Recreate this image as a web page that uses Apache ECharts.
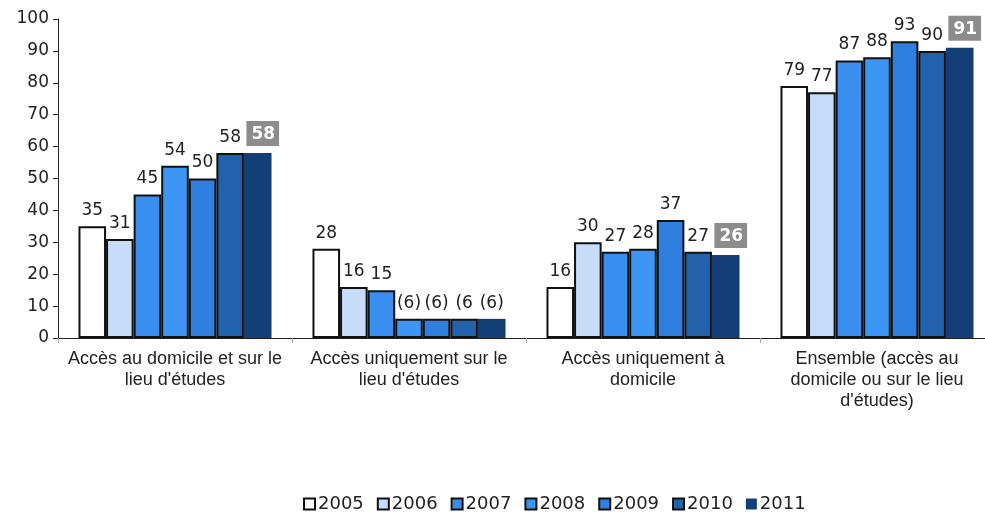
<!DOCTYPE html>
<html>
<head>
<meta charset="utf-8">
<script src="https://cdn.jsdelivr.net/npm/echarts@6/dist/echarts.min.js"></script>
<style>html,body{margin:0;padding:0;background:#fff;}#c{width:985px;height:513px;}</style>
</head>
<body>
<div id="c"></div>
<script>
const categories = ["Accès au domicile et sur le\nlieu d'études", "Accès uniquement sur le\nlieu d'études", "Accès uniquement à\ndomicile", "Ensemble (accès au\ndomicile ou sur le lieu\nd'études)"];
const years = ["2005", "2006", "2007", "2008", "2009", "2010", "2011"];
const v2005 = [35, 28, 16, 79];
const v2006 = [31, 16, 30, 77];
const v2007 = [45, 15, 27, 87];
const v2008 = [54, 6, 28, 88];
const v2009 = [50, 6, 37, 93];
const v2010 = [58, 6, 27, 90];
const v2011 = [58, 6, 26, 91];
const labelTexts2008 = ["54", "(6)", "28", "88"];
const labelTexts2009 = ["50", "(6)", "37", "93"];
const labelTexts2010 = ["58", "(6", "27", "90"];
const labelTexts2011 = ["58", "(6)", "26", "91"];
const yTicks = [0, 10, 20, 30, 40, 50, 60, 70, 80, 90, 100];
const colors = ["#ffffff", "#c6dcf8", "#3a8ef0", "#3d96f6", "#2f7fe0", "#2262ac", "#143e76"];
const allValues = [v2005, v2006, v2007, v2008, v2009, v2010, v2011];
const labelTexts = [null, null, null, labelTexts2008, labelTexts2009, labelTexts2010, labelTexts2011];

const valueFont = "DejaVu Sans, Verdana, sans-serif";
const series = years.map((y, i) => {
  const isLast = i === 6;
  return {
    name: y,
    type: 'bar',
    barGap: '0%',
    barCategoryGap: '17.5%',
    itemStyle: {
      color: colors[i],
      borderColor: isLast ? colors[i] : '#111',
      borderWidth: isLast ? 0 : 2
    },
    label: {
      show: true,
      position: 'top',
      distance: 7,
      fontFamily: valueFont,
      fontSize: 17,
      color: '#222'
    },
    data: allValues[i].map((v, k) => {
      const txt = labelTexts[i] ? labelTexts[i][k] : String(v);
      const item = { value: v, label: { formatter: txt } };
      if (isLast && k !== 1) {
        item.label = {
          formatter: txt,
          backgroundColor: '#8c8c8c',
          color: '#fff',
          fontWeight: 'bold',
          padding: [5, 4, 3, 5],
          offset: [5, 0],
          distance: 7
        };
      }
      return item;
    })
  };
});

const chart = echarts.init(document.getElementById('c'));
chart.setOption({
  animation: false,
  backgroundColor: '#fff',
  grid: { left: 58, width: 936, top: 19, bottom: 175, containLabel: false, outerBoundsMode: 'none' },
  legend: {
    top: 490,
    left: 298,
    itemWidth: 11,
    itemHeight: 11,
    itemGap: 13,
    icon: 'rect',
    textStyle: { fontFamily: valueFont, fontSize: 18, color: '#222', padding: [0, 0, 0, -2] },
    data: years
  },
  xAxis: {
    type: 'category',
    data: categories,
    axisLine: { lineStyle: { color: '#222', width: 1 } },
    axisTick: { show: true, length: 5, lineStyle: { color: '#aaa' } },
    axisLabel: {
      fontFamily: "Liberation Sans, Arial, sans-serif",
      fontSize: 18,
      color: '#222',
      margin: 11,
      lineHeight: 21,
      interval: 0
    }
  },
  yAxis: {
    type: 'value',
    min: yTicks[0],
    max: yTicks[yTicks.length - 1],
    interval: 10,
    splitLine: { show: false },
    axisLine: { show: true, lineStyle: { color: '#222' } },
    axisTick: { show: true, length: 5, lineStyle: { color: '#222' } },
    axisLabel: { fontFamily: valueFont, fontSize: 17, color: '#222', margin: 9 }
  },
  series: series
});
</script>
</body>
</html>
